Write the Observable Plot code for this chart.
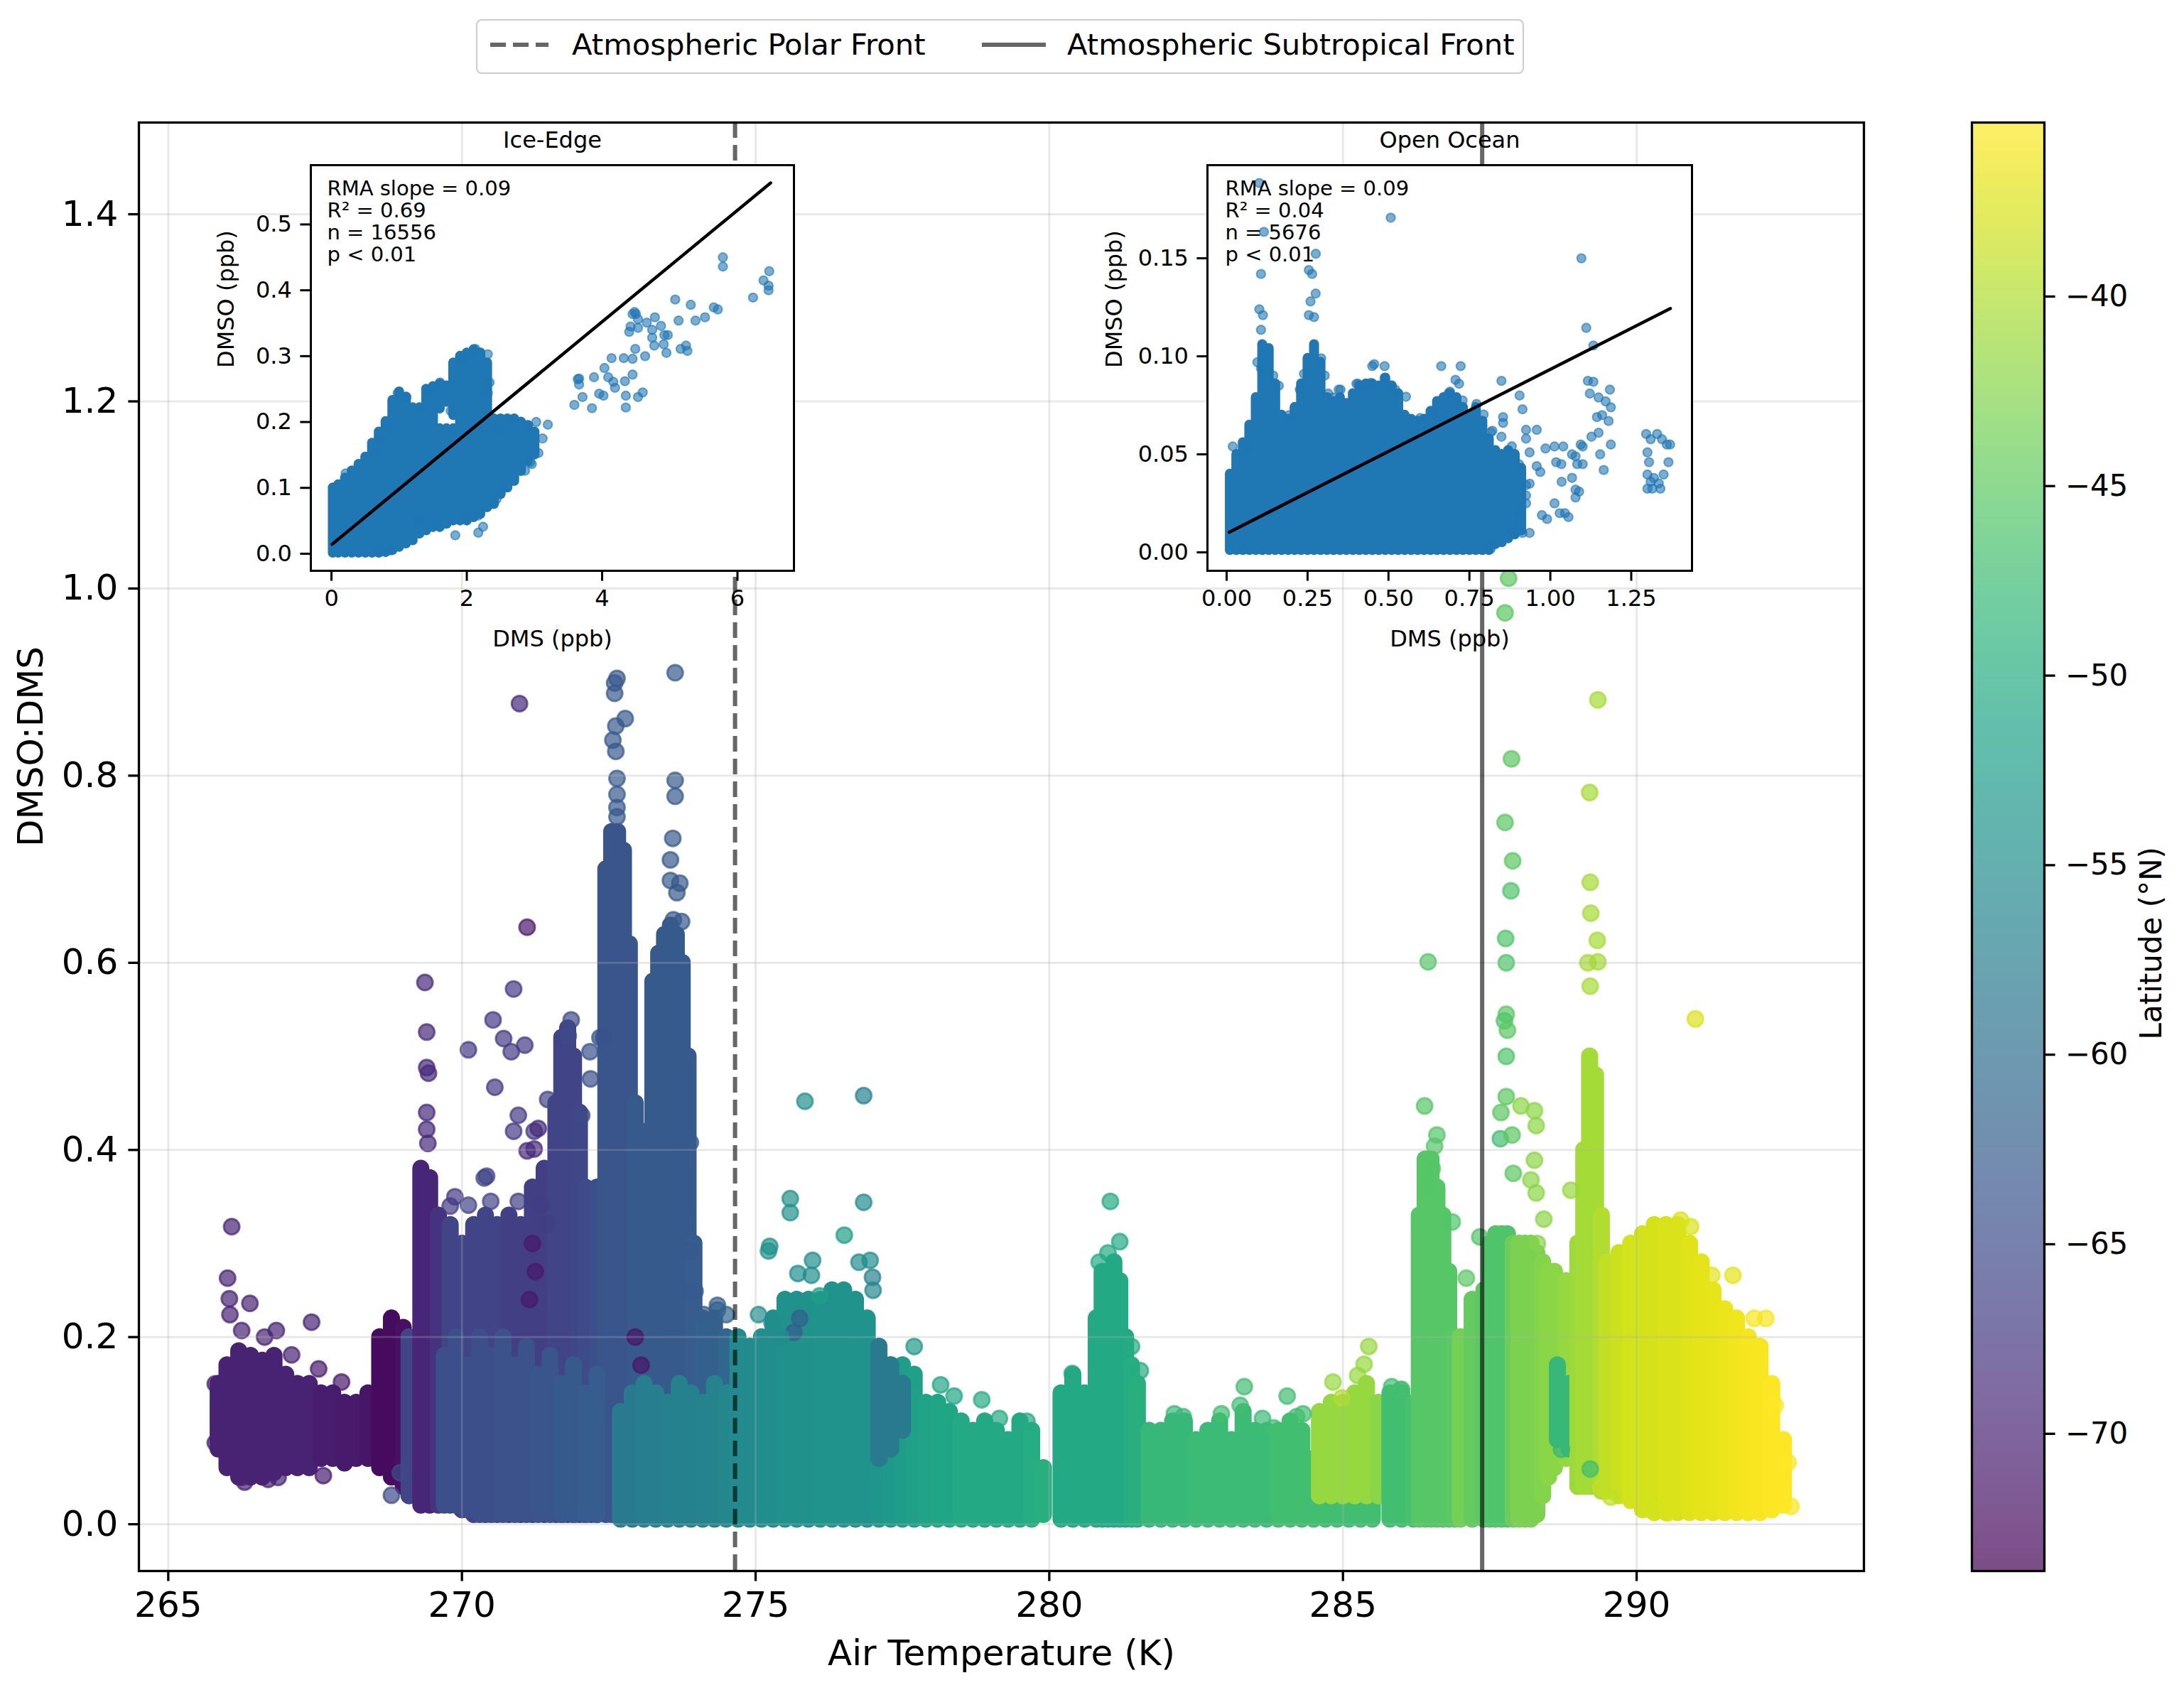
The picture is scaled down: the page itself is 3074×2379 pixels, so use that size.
<!DOCTYPE html>
<html><head><meta charset="utf-8">
<script src="https://cdn.jsdelivr.net/npm/d3@7"></script>
<script src="https://cdn.jsdelivr.net/npm/@observablehq/plot@0.6"></script>
<style>
html,body{margin:0;padding:0;background:#fff;}
#root{position:relative;width:3074px;height:2379px;background:#fff;overflow:hidden;font-family:"DejaVu Sans",sans-serif;}
#root svg{position:absolute;}
.legend{position:absolute;left:670px;top:27px;width:1475px;height:77px;box-sizing:border-box;border:2px solid #cccccc;border-radius:8px;background:rgba(255,255,255,0.8);}
.legend span{position:absolute;top:13px;font-size:41.7px;line-height:41.7px;white-space:nowrap;color:#000;}
</style>
</head><body><div id="root"></div>
<script>
// ---------- main chart data ----------
const xTicks = [265, 270, 275, 280, 285, 290];
const yTicks = [0, 0.2, 0.4, 0.6, 0.8, 1.0, 1.2, 1.4];
const latTicks = [-70, -65, -60, -55, -50, -45, -40];
const frontTemps = [274.65, 287.37];
const frontNames = ["Atmospheric Polar Front", "Atmospheric Subtropical Front"];

// dense point bodies: [air temp K, lowest ratio, highest ratio, latitude]
const bodyPolar = [
 [265.85,0.08,0.15,-70],[266.0,0.06,0.17,-70],[266.2,0.05,0.185,-70],[266.4,0.05,0.18,-70],[266.6,0.05,0.175,-70],
 [266.8,0.055,0.18,-70],[267.0,0.06,0.16,-70],[267.2,0.06,0.15,-70],[267.4,0.06,0.15,-70],[267.6,0.07,0.14,-70.5],
 [267.8,0.07,0.14,-70.5],[268.0,0.065,0.13,-71],[268.2,0.07,0.13,-71],[268.4,0.07,0.14,-71.5],
 [268.6,0.06,0.2,-72.5],[268.8,0.05,0.22,-72.5],[269.0,0.04,0.21,-72],[269.1,0.03,0.2,-66],
 [269.3,0.02,0.38,-69.5],[269.45,0.02,0.37,-69.5],[269.6,0.02,0.33,-68]
];
const bodyIceUpper = [
 [269.8,0.02,0.32,-66],[270.0,0.015,0.3,-66],[270.2,0.01,0.32,-66],[270.4,0.01,0.33,-66],[270.6,0.01,0.32,-66],
 [270.8,0.01,0.33,-66.5],[271.0,0.01,0.32,-66.5],[271.2,0.01,0.36,-66.5],[271.4,0.01,0.38,-66.5],[271.6,0.01,0.45,-66],
 [271.7,0.01,0.52,-66],[271.8,0.01,0.53,-66],[271.9,0.01,0.5,-66],[272.0,0.01,0.44,-65.5],[272.1,0.01,0.36,-65],
 [272.2,0.01,0.32,-65],[272.3,0.01,0.36,-64.5]
];
const bodyIceSpikes = [
 [272.45,0.01,0.7,-63.5],[272.55,0.01,0.74,-63.5],[272.65,0.01,0.74,-63.5],[272.75,0.01,0.72,-63.5],[272.85,0.01,0.62,-63.5],
 [272.95,0.01,0.45,-63],[273.05,0.01,0.38,-63],[273.15,0.01,0.42,-63],[273.25,0.01,0.58,-63],[273.35,0.01,0.61,-63],
 [273.45,0.01,0.63,-63],[273.55,0.01,0.64,-63],[273.65,0.01,0.63,-63],[273.75,0.01,0.6,-63],[273.85,0.01,0.5,-63],
 [273.95,0.01,0.3,-62.5],[274.1,0.01,0.22,-62],[274.3,0.01,0.22,-62],[274.5,0.01,0.2,-61]
];
const bodyIceLower = [
 [269.7,0.02,0.18,-64.5],[269.9,0.02,0.2,-64.5],[270.1,0.015,0.17,-64.5],[270.3,0.01,0.2,-64.5],[270.5,0.01,0.18,-64.5],
 [270.7,0.01,0.2,-64],[270.9,0.01,0.17,-64],[271.1,0.01,0.19,-64],[271.3,0.01,0.16,-63.5],[271.5,0.01,0.18,-63.5],
 [271.7,0.01,0.15,-63],[271.9,0.01,0.17,-63],[272.1,0.01,0.14,-62.5],[272.3,0.01,0.16,-62.5],
 [272.7,0.005,0.12,-58],[272.9,0.005,0.14,-58],[273.1,0.005,0.15,-57.5],[273.3,0.005,0.14,-57.5],[273.5,0.005,0.13,-57],
 [273.7,0.005,0.15,-57],[273.9,0.005,0.14,-57],[274.1,0.005,0.13,-56.5],[274.3,0.005,0.15,-56.5],[274.5,0.005,0.14,-56]
];
const bodyTeal = [
 [274.7,0.005,0.2,-55.5],[274.9,0.005,0.19,-55.5],[275.1,0.005,0.2,-55],[275.3,0.005,0.22,-55],[275.5,0.005,0.24,-54.5],
 [275.7,0.005,0.24,-54.5],[275.9,0.005,0.24,-54.5],[276.1,0.005,0.24,-54],[276.3,0.005,0.25,-54],[276.5,0.005,0.25,-54],
 [276.7,0.005,0.24,-54],[276.9,0.005,0.22,-54],[277.1,0.005,0.18,-53.5],[277.3,0.005,0.17,-53],[277.5,0.005,0.17,-52.5],
 [277.7,0.005,0.16,-52],[277.9,0.005,0.13,-51.5],[278.1,0.005,0.13,-51],[278.3,0.005,0.12,-51],[278.5,0.005,0.11,-50.5],
 [278.7,0.005,0.1,-50.5],[278.9,0.005,0.11,-50.5],[279.1,0.005,0.1,-50.5],[279.3,0.005,0.09,-50.5],[279.5,0.005,0.11,-50.5],
 [279.7,0.005,0.1,-50],[279.9,0.01,0.06,-49.5],
 [277.1,0.07,0.19,-58],[277.3,0.08,0.17,-58],[277.5,0.1,0.15,-58]
];
const bodyMid = [
 [280.2,0.005,0.14,-50.5],[280.4,0.005,0.16,-50.5],[280.6,0.005,0.14,-50.5],[280.8,0.005,0.22,-50.5],[280.9,0.005,0.27,-50.5],
 [281.0,0.005,0.27,-50.5],[281.1,0.005,0.28,-50.5],[281.2,0.005,0.26,-50.5],[281.3,0.005,0.2,-50.5],[281.4,0.005,0.17,-50],
 [281.5,0.005,0.15,-49.5],[281.7,0.005,0.1,-48],[281.9,0.005,0.1,-48],[282.1,0.005,0.11,-48],[282.3,0.005,0.11,-48],
 [282.5,0.005,0.09,-47.5],[282.7,0.005,0.1,-47.5],[282.9,0.005,0.11,-47.5],[283.1,0.005,0.09,-47.5],[283.3,0.005,0.12,-47.5],
 [283.5,0.005,0.1,-47.5],[283.7,0.005,0.1,-47.5],[283.9,0.005,0.1,-47],[284.1,0.005,0.11,-47],[284.3,0.005,0.1,-47]
];
const bodySubtropical = [
 [284.5,0.005,0.07,-47],[284.7,0.005,0.06,-47],[284.9,0.005,0.06,-47],[285.1,0.005,0.06,-47],[285.3,0.005,0.06,-47],[285.5,0.005,0.06,-47],
 [284.6,0.03,0.12,-41.5],[284.8,0.03,0.13,-41.5],[285.0,0.03,0.13,-41.5],[285.2,0.03,0.14,-41.5],[285.4,0.03,0.15,-41.5],[285.6,0.03,0.13,-42],
 [285.8,0.005,0.14,-47],[286.0,0.005,0.14,-47],[286.2,0.005,0.13,-46.5],[286.3,0.005,0.33,-45.5],[286.4,0.005,0.39,-45.5],
 [286.5,0.005,0.39,-45.5],[286.6,0.005,0.36,-45.5],[286.7,0.005,0.33,-45.5],[286.8,0.005,0.27,-45.5],[286.9,0.005,0.2,-45],
 [287.0,0.005,0.2,-43.5],[287.2,0.005,0.24,-44.5],[287.4,0.005,0.25,-45],[287.5,0.005,0.3,-46],[287.6,0.005,0.31,-46],
 [287.7,0.005,0.31,-46],[287.8,0.005,0.31,-46],[287.9,0.005,0.3,-44],[288.0,0.005,0.3,-43],[288.1,0.005,0.3,-43],
 [288.2,0.005,0.3,-43],[288.3,0.01,0.29,-43],[288.4,0.03,0.28,-42.5],
 [288.5,0.05,0.27,-42],[288.6,0.06,0.27,-42],[288.8,0.07,0.26,-41.5],[288.65,0.09,0.17,-48],[288.85,0.08,0.15,-48],
 [289.0,0.04,0.3,-41],[289.1,0.04,0.4,-40.5],[289.2,0.04,0.5,-40.5],[289.3,0.04,0.48,-40.5],[289.4,0.035,0.33,-40],
 [289.5,0.035,0.28,-39],[289.7,0.03,0.29,-38.5],[289.9,0.025,0.3,-38],[290.1,0.015,0.31,-38],[290.3,0.012,0.32,-37.8],
 [290.5,0.012,0.32,-37.5],[290.7,0.012,0.32,-37.5],[290.9,0.012,0.3,-37.3],[291.1,0.012,0.28,-37],[291.3,0.012,0.25,-36.8],
 [291.5,0.012,0.23,-36.5],[291.7,0.012,0.22,-36.2],[291.9,0.012,0.2,-36],[292.1,0.012,0.19,-35.8],[292.3,0.015,0.15,-35.5],
 [292.5,0.02,0.09,-35.4]
];

// isolated points: [air temp K, DMSO:DMS, latitude]
const dotsPolar = [
 [266.08,0.318,-70],[266.01,0.263,-70],[266.04,0.241,-70],[266.05,0.224,-70],[266.39,0.236,-70],[266.84,0.207,-70],
 [267.44,0.216,-70],[265.8,0.087,-70],[265.8,0.15,-70],[266.3,0.045,-70],[266.7,0.048,-70],
 [269.37,0.579,-69],[269.4,0.526,-69],[269.4,0.488,-69],[269.43,0.482,-69],[269.4,0.44,-69],[269.4,0.422,-69],[269.42,0.407,-69],
 [269.88,0.35,-67],[269.8,0.34,-67],[270.11,0.507,-67],[270.56,0.467,-67],[270.88,0.572,-67],[270.53,0.539,-67],
 [271.11,0.638,-71],[270.98,0.877,-69],[270.71,0.519,-67],[271.07,0.512,-67],[270.84,0.505,-67],[270.42,0.372,-66],
 [270.38,0.37,-66],[271.46,0.454,-66],[270.96,0.437,-67],[270.88,0.42,-67],[271.23,0.42,-67],[271.3,0.423,-69],
 [271.11,0.399,-69],[271.23,0.401,-69],
 [271.86,0.539,-65],[271.81,0.522,-65],[272.18,0.505,-64],[272.41,0.52,-64],
 [273.63,0.91,-63],[272.64,0.904,-63],[272.6,0.899,-63],[272.6,0.888,-63],[272.78,0.861,-63],[272.62,0.853,-63],
 [272.57,0.838,-63],[272.62,0.826,-63],[272.64,0.797,-63],[272.64,0.78,-63],[272.64,0.766,-63],[272.64,0.756,-63],
 [273.63,0.795,-63],[273.63,0.778,-63],[273.59,0.733,-63],[273.55,0.71,-63],[273.55,0.688,-63],[273.71,0.685,-63],
 [273.66,0.675,-63],[273.6,0.646,-63],[273.74,0.644,-63],
 [273.7,0.249,-63],[274.12,0.224,-62],[274.35,0.234,-62]
];
const dotsTeal = [
 [275.84,0.452,-54.5],[276.84,0.458,-57],[275.59,0.348,-54.5],[275.59,0.333,-54.5],[276.84,0.344,-55],[276.51,0.309,-52],
 [275.97,0.282,-55],[275.72,0.268,-55],[275.95,0.266,-55],[276.95,0.282,-55],[276.76,0.28,-55],[276.99,0.264,-57],
 [275.24,0.297,-54],[275.22,0.292,-54],[276.09,0.244,-52],[277.0,0.25,-56],[275.75,0.22,-62],[275.65,0.205,-62],
 [278.15,0.149,-51],[278.38,0.137,-51],[278.85,0.133,-50],[277.7,0.19,-53],
 [281.04,0.345,-50.5],[281.2,0.302,-50.5],[280.85,0.28,-50.5],[281.0,0.29,-50.5],[281.4,0.19,-50],[281.55,0.164,-50],
 [280.39,0.161,-50.5],
 [282.13,0.118,-48],[282.28,0.115,-48],[282.93,0.118,-47],[283.32,0.147,-47],[283.25,0.127,-47],[284.05,0.137,-47],
 [284.21,0.115,-47],[283.82,0.103,-47]
];
const dotsSubtropical = [
 [285.44,0.19,-41.5],[285.36,0.171,-41.5],[285.25,0.159,-41.5],[284.83,0.152,-41.5],[284.98,0.135,-40],[285.98,0.144,-46],
 [286.45,0.601,-45.5],[286.39,0.447,-45.5],[286.6,0.416,-45.5],[286.56,0.404,-45.5],[286.52,0.38,-45.5],[286.45,0.362,-45.5],
 [287.33,0.307,-46],
 [287.82,1.011,-45],[287.76,0.974,-45],[289.34,0.881,-40.5],[287.87,0.818,-45],[289.2,0.782,-40.5],[287.76,0.75,-45],
 [287.89,0.709,-45],[287.86,0.677,-46],[289.21,0.686,-40.5],[289.22,0.653,-40.5],[289.33,0.624,-40.5],[289.34,0.601,-40.5],
 [287.77,0.626,-46],[287.78,0.6,-46],[287.78,0.545,-45],[287.75,0.538,-46],[287.8,0.528,-45],[287.78,0.5,-46],
 [291.0,0.54,-37.5],[289.21,0.575,-40.5],[289.17,0.6,-40.5],
 [287.78,0.457,-45],[287.69,0.44,-45],[288.03,0.447,-42],[288.26,0.442,-42],[288.29,0.426,-42],[287.68,0.412,-47],
 [287.88,0.416,-45],[288.26,0.389,-42],[288.2,0.368,-42],[288.29,0.354,-42],[288.88,0.357,-41.5],[287.9,0.375,-45],
 [288.42,0.326,-42],
 [291.64,0.266,-37],[292.0,0.22,-36],[292.2,0.22,-36],[290.5,0.31,-37.5],[290.75,0.325,-37.5],[290.92,0.318,-37.5],
 [291.28,0.266,-37],[289.21,0.059,-47],[288.72,0.08,-48]
];
// points along the ragged edges of the dense clouds
const dotsEdge = [
 [266.25,0.207,-70],[266.64,0.2,-70],[267.1,0.181,-70],[267.56,0.166,-70.5],[267.95,0.152,-71],
 [266.25,0.05,-70],[266.87,0.05,-70],[267.64,0.052,-70.5],[268.8,0.031,-65],[268.95,0.055,-65],
 [270.11,0.341,-66],[270.49,0.345,-66],[270.96,0.345,-66.5],[271.34,0.341,-66.5],[271.46,0.321,-66.5],
 [271.2,0.3,-71],[271.25,0.27,-71],[271.15,0.24,-71],[272.95,0.2,-71.5],[273.05,0.17,-71.5],
 [272.35,0.52,-64],[272.19,0.476,-64.5],[272.04,0.437,-65],
 [273.89,0.408,-63],[273.81,0.39,-63],[273.73,0.36,-63],[273.81,0.331,-63],[273.89,0.292,-63],
 [273.97,0.249,-62.5],[274.35,0.229,-62],[274.5,0.224,-61.5],
 [275.05,0.224,-55],[275.28,0.215,-55],[275.43,0.2,-55],
 [279.15,0.113,-50.5],[279.62,0.11,-50.5],[283.63,0.113,-47.5],[284.32,0.118,-47],
 [285.83,0.147,-47],[286.0,0.144,-47],[286.86,0.323,-46],[287.1,0.263,-45],[288.31,0.3,-42.5],
 [292.36,0.127,-35.5],[292.58,0.066,-35.4],[292.63,0.019,-35.4],
 [289.39,0.039,-39],[289.56,0.029,-39],[290.31,0.019,-38],[290.53,0.012,-37.5]
];

// ---------- inset data ----------
// Ice-Edge: dense body [DMS, lowest DMSO, highest DMSO]
const iceBody = [
 [0.02,0.001,0.10],[0.1,0.001,0.105],[0.2,0.001,0.115],[0.3,0.001,0.126],[0.4,0.001,0.136],[0.5,0.001,0.147],
 [0.6,0.001,0.168],[0.7,0.001,0.185],[0.8,0.002,0.201],[0.9,0.005,0.233],[1.0,0.01,0.246],[1.1,0.015,0.238],
 [1.2,0.02,0.222],[1.3,0.03,0.222],[1.4,0.035,0.25],[1.5,0.04,0.254],[1.6,0.04,0.19],[1.6,0.22,0.258],
 [1.7,0.045,0.19],[1.7,0.23,0.255],[1.8,0.05,0.19],[1.8,0.21,0.29],[1.9,0.05,0.3],[2.0,0.05,0.305],
 [2.1,0.055,0.31],[2.2,0.06,0.305],[2.3,0.07,0.2],[2.3,0.21,0.29],[2.4,0.075,0.205],[2.5,0.09,0.205],
 [2.6,0.1,0.205],[2.7,0.11,0.205],[2.8,0.125,0.2],[2.9,0.14,0.195],[3.0,0.15,0.185]
];
const iceDots = [
 [0.21,0.122],[1.83,0.028],[2.17,0.032],[2.17,0.058],[2.24,0.041],[2.545,0.1],[2.937,0.139],[3.026,0.2],[3.198,0.196],
 [3.12,0.175],[3.058,0.153],[3.59,0.226],[3.71,0.238],[3.64,0.265],[3.66,0.257],[3.66,0.266],[3.85,0.221],[3.88,0.268],
 [3.956,0.243],[4.02,0.24],[4.034,0.282],[4.14,0.297],[4.09,0.268],[4.165,0.261],[4.19,0.252],[4.32,0.297],[4.45,0.296],
 [4.337,0.262],[4.35,0.24],[4.35,0.222],[4.45,0.272],[4.53,0.238],[4.6,0.245],[4.49,0.311],[4.635,0.3],[4.4,0.337],
 [4.42,0.345],[4.45,0.364],[4.48,0.367],[4.5,0.364],[4.53,0.356],[4.53,0.343],[4.66,0.351],[4.78,0.359],[4.74,0.34],
 [4.74,0.328],[4.77,0.316],[4.87,0.346],[4.92,0.332],[4.91,0.318],[4.95,0.305],[4.97,0.332],[5.08,0.386],[5.13,0.354],
 [5.16,0.311],[5.26,0.308],[5.24,0.316],[5.31,0.378],[5.38,0.354],[5.52,0.359],[5.65,0.374],[5.71,0.371],[5.785,0.45],
 [5.785,0.436],[6.23,0.389],[6.385,0.415],[6.47,0.429],[6.46,0.407],[6.46,0.4],
 [0.639,0.152],[0.717,0.174],[0.822,0.195],[0.978,0.244],[1.109,0.238],[1.318,0.219],[1.449,0.249],[1.605,0.26],
 [1.762,0.217],[1.945,0.297],[2.127,0.311],[2.31,0.303],[2.337,0.26],[2.31,0.244],[2.441,0.19],[2.7,0.2],[2.91,0.195],
 [2.96,0.136],[2.86,0.126],[2.44,0.083],[2.02,0.056],[1.55,0.045],[1.29,0.05],[0.874,0.005],[0.717,0.005]
];
const iceFitDms = [0.01, 6.49];
const iceFitDmso = [0.0144, 0.563];
const iceStats = ["RMA slope = 0.09", "R² = 0.69", "n = 16556", "p < 0.01"];

// Open Ocean
const oceanBody = [
 [0.01,0.001,0.04],[0.03,0.001,0.05],[0.05,0.001,0.056],[0.07,0.001,0.065],[0.09,0.001,0.079],[0.11,0.001,0.106],
 [0.13,0.001,0.104],[0.15,0.001,0.086],[0.17,0.001,0.07],[0.19,0.001,0.068],[0.21,0.001,0.074],[0.23,0.001,0.086],
 [0.25,0.001,0.099],[0.27,0.001,0.106],[0.29,0.001,0.097],[0.31,0.001,0.079],[0.33,0.001,0.077],[0.35,0.001,0.079],
 [0.37,0.001,0.076],[0.39,0.001,0.081],[0.41,0.001,0.085],[0.43,0.001,0.086],[0.45,0.001,0.086],[0.47,0.001,0.085],
 [0.49,0.001,0.089],[0.51,0.001,0.085],[0.53,0.001,0.081],[0.55,0.001,0.07],[0.57,0.001,0.068],[0.59,0.001,0.067],
 [0.61,0.001,0.068],[0.63,0.001,0.072],[0.65,0.001,0.077],[0.67,0.001,0.079],[0.69,0.001,0.081],[0.71,0.001,0.079],
 [0.73,0.001,0.074],[0.75,0.001,0.07],[0.77,0.001,0.074],[0.79,0.001,0.067],[0.81,0.001,0.058],[0.83,0.004,0.052],
 [0.85,0.005,0.05],[0.87,0.007,0.052],[0.89,0.009,0.05],[0.91,0.011,0.043]
];
const oceanDots = [
 [0.1007,0.1884],[0.115,0.1635],[0.507,0.1707],[0.2754,0.1523],[0.106,0.142],[0.254,0.144],[0.264,0.142],[0.275,0.132],
 [0.259,0.128],[0.254,0.121],[0.27,0.12],[0.101,0.124],[0.112,0.121],[0.106,0.1135],
 [1.096,0.15],[1.111,0.1145],[1.133,0.1055],[1.116,0.0875],[1.133,0.087],[1.122,0.081],[1.149,0.079],[1.171,0.077],
 [1.184,0.083],[1.187,0.074],[1.144,0.069],[1.16,0.07],[1.18,0.067],[1.149,0.061],[1.127,0.059],[1.1,0.054],[1.094,0.055],
 [1.187,0.055],[1.154,0.05],[1.165,0.042],[0.985,0.053],[1.013,0.054],[1.04,0.054],[1.018,0.046],[1.034,0.045],
 [1.067,0.05],[1.078,0.049],[1.083,0.045],[1.1,0.045],[1.013,0.025],[1.029,0.02],[1.045,0.02],[1.056,0.018],[0.974,0.019],
 [0.99,0.017],[1.035,0.036],[1.067,0.038],[1.078,0.032],[1.089,0.031],[1.078,0.028],[0.958,0.044],[0.969,0.041],
 [0.936,0.035],[0.925,0.029],[0.925,0.025],[0.914,0.0099],[0.936,0.0099],[0.849,0.0875],[0.905,0.08],[0.914,0.073],
 [0.854,0.069],[0.854,0.066],[0.821,0.062],[0.849,0.059],[0.925,0.058],[0.936,0.051],[0.925,0.0625],[0.958,0.0625],
 [0.663,0.095],[0.723,0.095],[0.488,0.095],[0.456,0.096],[0.45,0.095],[0.707,0.088],[0.718,0.086],[0.69,0.082],
 [0.352,0.083],[0.33,0.079],[0.406,0.086],[0.423,0.085],[0.0188,0.054],[0.068,0.054],
 [1.296,0.0604],[1.31,0.0577],[1.33,0.0604],[1.345,0.0577],[1.36,0.055],[1.37,0.055],[1.3,0.051],[1.305,0.046],
 [1.3,0.0397],[1.32,0.0379],[1.335,0.0352],[1.3,0.0325],[1.315,0.0325],[1.35,0.0397],[1.365,0.046],[1.34,0.0325],[1.31,0.036],
 [0.095,0.097],[0.106,0.094],[0.144,0.0902],[0.161,0.085],[0.193,0.07],[0.226,0.083],[0.239,0.091],[0.292,0.099],
 [0.303,0.0902],[0.314,0.081],[0.346,0.083],[0.401,0.086],[0.445,0.0865],[0.488,0.089],[0.521,0.083],[0.554,0.0794],
 [0.598,0.0685],[0.641,0.072],[0.685,0.081],[0.729,0.0775],[0.772,0.0757],[0.794,0.0703],[0.816,0.0613],[0.881,0.0541],
 [0.903,0.045],[0.925,0.0343],[0.903,0.0199],[0.881,0.0108],[0.816,0.0018],[0.052,0.0018]
];
const oceanFitDms = [0.008, 1.371];
const oceanFitDmso = [0.0103, 0.1244];
const oceanStats = ["RMA slope = 0.09", "R² = 0.04", "n = 5676", "p < 0.01"];

// ---------- build ----------
const root = document.getElementById("root");
const latDomain = [-73.62, -35.41];
const color = {type: "linear", scheme: "viridis", domain: latDomain};
const baseStyle = {fontFamily: "DejaVu Sans", background: "transparent", color: "black", overflow: "visible"};
const place = (el, left, top) => { el.style.position = "absolute"; el.style.left = left + "px"; el.style.top = top + "px"; root.appendChild(el); };

const body = [...bodyPolar, ...bodyIceUpper, ...bodyIceSpikes, ...bodyIceLower, ...bodyTeal, ...bodyMid, ...bodySubtropical]
  .map(([t, lo, hi, lat]) => ({t, lo, hi, lat}));
const dots = [...dotsPolar, ...dotsTeal, ...dotsSubtropical, ...dotsEdge].map(([t, r, lat]) => ({t, r, lat}));
const gridStyle = {stroke: "#b0b0b0", strokeOpacity: 0.3, strokeWidth: 2.7};

const main = Plot.plot({
  width: 2700, height: 2379, marginLeft: 195, marginRight: 77, marginTop: 172, marginBottom: 168,
  x: {domain: [264.5, 293.87]}, y: {domain: [-0.05, 1.498]}, color, style: baseStyle,
  marks: [
    Plot.ruleX(body, {x: "t", y1: "lo", y2: "hi", stroke: "lat", strokeWidth: 24, strokeLinecap: "round"}),
    Plot.dot(dots, {x: "t", y: "r", r: 11, fill: "lat", stroke: "lat", fillOpacity: 0.7, strokeOpacity: 0.7, strokeWidth: 3}),
    Plot.gridX({ticks: xTicks, ...gridStyle}),
    Plot.gridY({ticks: yTicks, ...gridStyle}),
    Plot.ruleX([frontTemps[0]], {stroke: "black", strokeOpacity: 0.6, strokeWidth: 6, strokeDasharray: "22,10"}),
    Plot.ruleX([frontTemps[1]], {stroke: "black", strokeOpacity: 0.6, strokeWidth: 6}),
    Plot.frame({stroke: "black", strokeWidth: 3.3}),
    Plot.axisX({ticks: xTicks, tickSize: 14.6, tickPadding: 14.6, fontSize: 50, strokeWidth: 3.3, label: null}),
    Plot.axisY({ticks: yTicks, tickFormat: d3.format(".1f"), tickSize: 14.6, tickPadding: 14.6, fontSize: 50, strokeWidth: 3.3, label: null}),
    Plot.text(["Air Temperature (K)"], {frameAnchor: "bottom", lineAnchor: "middle", dy: 116, fontSize: 50}),
    Plot.text(["DMSO:DMS"], {frameAnchor: "left", lineAnchor: "middle", dx: -152, rotate: -90, fontSize: 50})
  ]
});
place(main, 0, 0);

// colorbar
let cbMarks;
if (typeof Plot.raster === "function") {
  cbMarks = [Plot.raster({x1: 0, x2: 1, y1: latDomain[0], y2: latDomain[1], width: 2, height: 600, fill: (x, y) => y, fillOpacity: 0.7})];
} else {
  const stops = d3.range(latDomain[0], latDomain[1], 0.05);
  cbMarks = [Plot.rect(stops, {x1: 0, x2: 1, y1: d => d, y2: d => Math.min(d + 0.05, latDomain[1]), fill: d => d, fillOpacity: 0.7, shapeRendering: "crispEdges"})];
}
const cb = Plot.plot({
  width: 374, height: 2379, marginLeft: 75, marginRight: 197, marginTop: 172, marginBottom: 168,
  x: {domain: [0, 1], axis: null}, y: {domain: latDomain}, color, style: baseStyle,
  marks: [
    ...cbMarks,
    Plot.frame({stroke: "black", strokeWidth: 3.3}),
    Plot.axisY({anchor: "right", ticks: latTicks, tickFormat: d3.format("d"), tickSize: 14.6, tickPadding: 14.6, fontSize: 42, strokeWidth: 3.3, label: null}),
    Plot.text(["Latitude (°N)"], {frameAnchor: "right", lineAnchor: "middle", dx: 151, rotate: -90, fontSize: 42})
  ]
});
place(cb, 2700, 0);

// insets
function inset(o) {
  const bodyRows = o.body.map(([x, lo, hi]) => ({x, lo, hi}));
  const dotRows = o.dots.map(([x, y]) => ({x, y}));
  const fit = o.fitX.map((x, i) => ({x, y: o.fitY[i]}));
  const blue = "#1f77b4";
  const svg = Plot.plot({
    width: o.width, height: 783, marginLeft: o.mL, marginRight: 60, marginTop: 82, marginBottom: 130,
    x: {domain: o.xDomain}, y: {domain: o.yDomain}, style: baseStyle,
    marks: [
      Plot.frame({fill: "white"}),
      Plot.ruleX(bodyRows, {x: "x", y1: "lo", y2: "hi", stroke: blue, strokeWidth: 14, strokeLinecap: "round"}),
      Plot.dot(dotRows, {x: "x", y: "y", r: 6.2, fill: blue, stroke: blue, fillOpacity: 0.6, strokeOpacity: 0.6, strokeWidth: 2}),
      Plot.line(fit, {x: "x", y: "y", stroke: "black", strokeWidth: 4.5}),
      Plot.frame({stroke: "black", strokeWidth: 3}),
      Plot.axisX({ticks: o.xTicks, tickFormat: o.xFmt, tickSize: 14.6, tickPadding: 12, fontSize: 32, strokeWidth: 3, label: null}),
      Plot.axisY({ticks: o.yTicks, tickFormat: o.yFmt, tickSize: 14.6, tickPadding: 12, fontSize: 32, strokeWidth: 3, label: null}),
      Plot.text([o.title], {frameAnchor: "top", lineAnchor: "middle", dy: -35, fontSize: 32}),
      Plot.text(["DMS (ppb)"], {frameAnchor: "bottom", lineAnchor: "middle", dy: 96, fontSize: 32}),
      Plot.text(["DMSO (ppb)"], {frameAnchor: "left", lineAnchor: "middle", dx: o.ylabDx, rotate: -90, fontSize: 32}),
      Plot.text([o.stats.join("\n")], {frameAnchor: "top-left", dx: o.statDx, dy: 20, lineAnchor: "top", textAnchor: "start", fontSize: 29, lineHeight: 1.07})
    ]
  });
  place(svg, o.left, 150);
}
inset({left: 280, width: 897, mL: 157, xDomain: [-0.305, 6.835], yDomain: [-0.0259, 0.590],
  xTicks: [0, 2, 4, 6], yTicks: [0, 0.1, 0.2, 0.3, 0.4, 0.5], xFmt: d3.format("d"), yFmt: d3.format(".1f"),
  body: iceBody, dots: iceDots, fitX: iceFitDms, fitY: iceFitDmso, title: "Ice-Edge", stats: iceStats, statDx: 23, ylabDx: -119});
inset({left: 1520, width: 921, mL: 179, xDomain: [-0.0593, 1.4377], yDomain: [-0.0094, 0.1975],
  xTicks: [0, 0.25, 0.5, 0.75, 1.0, 1.25], yTicks: [0, 0.05, 0.1, 0.15], xFmt: d3.format(".2f"), yFmt: d3.format(".2f"),
  body: oceanBody, dots: oceanDots, fitX: oceanFitDms, fitY: oceanFitDmso, title: "Open Ocean", stats: oceanStats, statDx: 25, ylabDx: -131});

// legend
const legend = document.createElement("div");
legend.className = "legend";
legend.innerHTML =
  `<svg style="left:16px;top:28px" width="86" height="12"><line x1="2" y1="6" x2="84" y2="6" stroke="#000" stroke-opacity="0.6" stroke-width="6" stroke-dasharray="22,10"/></svg>` +
  `<span style="left:133px">${frontNames[0]}</span>` +
  `<svg style="left:708px;top:28px" width="94" height="12"><line x1="2" y1="6" x2="92" y2="6" stroke="#000" stroke-opacity="0.6" stroke-width="6"/></svg>` +
  `<span style="left:830px">${frontNames[1]}</span>`;
root.appendChild(legend);
</script>
</body></html>
